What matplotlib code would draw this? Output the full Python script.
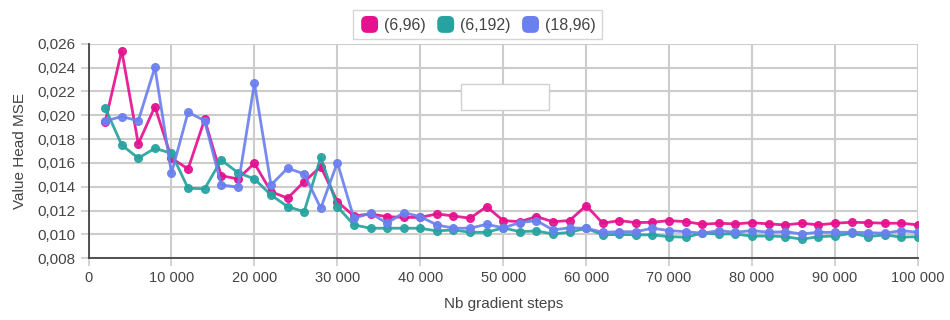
import matplotlib.pyplot as plt
import matplotlib.patches as mpatches
from matplotlib.legend_handler import HandlerPatch
from matplotlib.ticker import FuncFormatter, MultipleLocator
import numpy as np

plt.rcParams['font.family'] = ['Liberation Sans', 'DejaVu Sans']

steps = np.arange(2000, 100001, 2000)

mse_6_96 = [0.01942, 0.02543, 0.01760, 0.02073, 0.01640, 0.01550, 0.01965, 0.01493, 0.01466, 0.01597,
            0.01359, 0.01304, 0.01443, 0.01569, 0.01275, 0.01155, 0.01172, 0.01149, 0.01143, 0.01143,
            0.01172, 0.01155, 0.01136, 0.01233, 0.01116, 0.01107, 0.01149, 0.01107, 0.01116, 0.01242,
            0.01094, 0.01116, 0.01099, 0.01102, 0.01116, 0.01107, 0.01085, 0.01094, 0.01088, 0.01099,
            0.01088, 0.01080, 0.01094, 0.01080, 0.01094, 0.01102, 0.01099, 0.01094, 0.01094, 0.01080]
mse_6_192 = [0.02064, 0.01751, 0.01640, 0.01723, 0.01681, 0.01388, 0.01383, 0.01625, 0.01519, 0.01466,
             0.01331, 0.01233, 0.01191, 0.01648, 0.01233, 0.01080, 0.01052, 0.01052, 0.01052, 0.01052,
             0.01029, 0.01038, 0.01018, 0.01018, 0.01055, 0.01023, 0.01029, 0.01004, 0.01018, 0.01052,
             0.00996, 0.01000, 0.00996, 0.00996, 0.00981, 0.00977, 0.01010, 0.01004, 0.01004, 0.00985,
             0.00987, 0.00981, 0.00960, 0.00981, 0.00987, 0.01010, 0.00981, 0.00996, 0.00977, 0.00981]
mse_18_96 = [0.01953, 0.01989, 0.01955, 0.02403, 0.01514, 0.02026, 0.01955, 0.01416, 0.01397, 0.02269,
             0.01415, 0.01556, 0.01508, 0.01220, 0.01603, 0.01136, 0.01178, 0.01094, 0.01183, 0.01149,
             0.01080, 0.01052, 0.01052, 0.01085, 0.01055, 0.01099, 0.01116, 0.01038, 0.01055, 0.01052,
             0.01018, 0.01023, 0.01023, 0.01052, 0.01032, 0.01023, 0.01010, 0.01032, 0.01018, 0.01032,
             0.01018, 0.01023, 0.01004, 0.01018, 0.01018, 0.01018, 0.01015, 0.01010, 0.01032, 0.01018]

labels = ['(6,96)', '(6,192)', '(18,96)']
colors = ['#e5118f', '#26a3a0', '#6a80ee']


class RoundBox(HandlerPatch):
    def create_artists(self, legend, orig_handle, xdescent, ydescent, width, height, fontsize, trans):
        s = height
        p = mpatches.FancyBboxPatch((-xdescent + (width - s) / 2 + 2, -ydescent + 2), s - 4, s - 4,
                                    boxstyle='round,pad=2,rounding_size=4',
                                    facecolor=orig_handle.get_facecolor(), edgecolor='none',
                                    transform=trans)
        return [p]


fig = plt.figure(figsize=(9.5, 3.2), dpi=100)
ax = fig.add_axes([0.0932, 0.193, 0.873, 0.670])

for ys, c in zip([mse_6_96, mse_6_192, mse_18_96], colors):
    ax.plot(steps, ys, color=c, lw=2, marker='o', markersize=5.5, alpha=0.92, zorder=3)

ax.set_xlim(0, 100000)
ax.set_ylim(0.008, 0.026)
ax.xaxis.set_major_locator(MultipleLocator(10000))
ax.yaxis.set_major_locator(MultipleLocator(0.002))
ax.xaxis.set_major_formatter(FuncFormatter(lambda v, p: f"{int(v):,}".replace(',', ' ')))
ax.yaxis.set_major_formatter(FuncFormatter(lambda v, p: f"{v:.3f}".replace('.', ',')))

ax.grid(True, color='#cccccc', lw=1.5, zorder=0)
for side in ['top', 'right']:
    ax.spines[side].set_visible(False)
ax.spines['left'].set_color('#444444')
ax.spines['bottom'].set_color('#444444')
ax.spines['left'].set_linewidth(1.3)
ax.spines['bottom'].set_linewidth(1.3)
ax.tick_params(axis='both', colors='#cccccc', labelcolor='#444444', labelsize=11, length=6, width=1.2)
ax.tick_params(axis='x', labelsize=10.5)

ax.set_xlabel('Nb gradient steps', fontsize=11, color='#444444', labelpad=8)
ax.set_ylabel('Value Head MSE', fontsize=11, color='#444444', labelpad=7)

handles = [mpatches.Patch(facecolor=c, label=l) for c, l in zip(colors, labels)]
leg = fig.legend(handles=handles, loc='upper center', bbox_to_anchor=(0.503, 0.995), ncol=3,
                 handler_map={mpatches.Patch: RoundBox()}, fontsize=11.5, frameon=True,
                 fancybox=False, edgecolor='#cccccc', handlelength=1.25, handleheight=1.25,
                 handletextpad=0.3, columnspacing=0.6, borderpad=0.4, labelcolor='#444444')
leg.get_frame().set_linewidth(1.0)

# empty white box over the grid
ax.add_patch(mpatches.Rectangle((461 / 950, 1 - 110 / 320), 88 / 950, 26 / 320,
                                transform=fig.transFigure, facecolor='white',
                                edgecolor='#d0d0d0', lw=1, zorder=5))

fig.savefig('out.png', dpi=100)
